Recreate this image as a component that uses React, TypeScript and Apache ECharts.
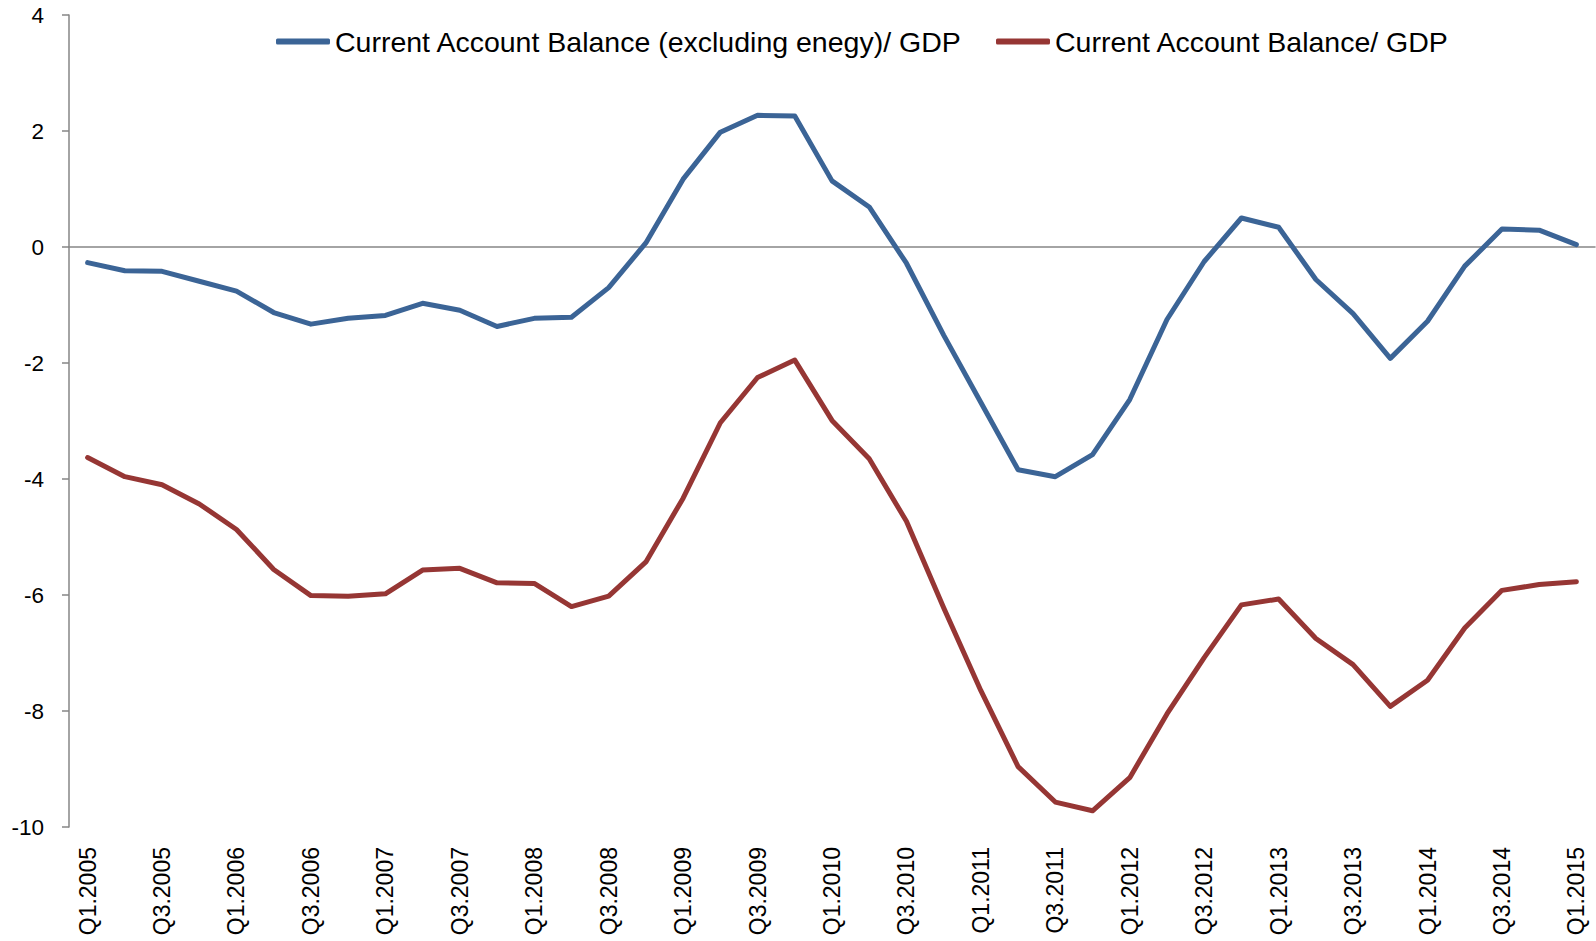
import React, { useEffect, useRef } from "react";
import * as echarts from "echarts";

const years = [2005, 2006, 2007, 2008, 2009, 2010, 2011, 2012, 2013, 2014, 2015];
const categories: string[] = [];
for (const y of years) {
  for (let q = 1; q <= 4; q++) {
    if (y === 2015 && q > 1) break;
    categories.push(`Q${q}.${y}`);
  }
}

const seriesNames = [
  "Current Account Balance (excluding enegy)/ GDP",
  "Current Account Balance/ GDP",
];

const caExEnergy = [
  -0.27, -0.41, -0.42, -0.59, -0.76, -1.13, -1.33, -1.23, -1.18, -0.97,
  -1.09, -1.37, -1.23, -1.21, -0.7, 0.07, 1.17, 1.98, 2.27, 2.26,
  1.14, 0.69, -0.28, -1.52, -2.68, -3.84, -3.96, -3.58, -2.63, -1.25,
  -0.25, 0.5, 0.34, -0.56, -1.15, -1.92, -1.28, -0.33, 0.31, 0.29,
  0.04,
];

const caTotal = [
  -3.63, -3.96, -4.1, -4.43, -4.87, -5.56, -6.01, -6.02, -5.98, -5.57,
  -5.54, -5.79, -5.8, -6.2, -6.02, -5.43, -4.33, -3.03, -2.25, -1.95,
  -2.99, -3.65, -4.73, -6.22, -7.65, -8.96, -9.57, -9.72, -9.15, -8.05,
  -7.08, -6.17, -6.07, -6.75, -7.2, -7.92, -7.47, -6.57, -5.92, -5.82,
  -5.77,
];

const colors = ["#3b6496", "#963634"];
const axisGray = "#868686";
const fontFamily = "'Liberation Sans', Arial, sans-serif";

export default function App() {
  const ref = useRef<HTMLDivElement>(null);
  useEffect(() => {
    if (!ref.current) return;
    const chart = echarts.init(ref.current, undefined, { renderer: "svg" });
    const legendText = { fontSize: 28.5, color: "#000", fontFamily };
    const legendBase = {
      top: 27,
      padding: 0,
      icon: "roundRect",
      itemWidth: 54,
      itemHeight: 6,
      textStyle: legendText,
      selectedMode: false,
    };
    chart.setOption({
      animation: false,
      backgroundColor: "#fff",
      grid: { left: 69, right: 1, top: 15, bottom: 114, containLabel: false },
      legend: [
        { ...legendBase, data: [seriesNames[0]], left: 276 },
        { ...legendBase, data: [seriesNames[1]], left: 996 },
      ],
      xAxis: [
        {
          type: "category",
          data: categories,
          boundaryGap: true,
          axisLine: { show: true, onZero: true, lineStyle: { color: axisGray, width: 1.5 } },
          axisTick: { show: false },
          axisLabel: { show: false },
          splitLine: { show: false },
        },
        {
          type: "category",
          data: categories,
          position: "bottom",
          boundaryGap: true,
          axisLine: { show: false, onZero: false },
          axisTick: { show: false },
          axisLabel: {
            show: true,
            rotate: 90,
            interval: 1,
            margin: 20,
            fontSize: 23,
            color: "#000",
            fontFamily,
          },
          splitLine: { show: false },
        },
      ],
      yAxis: {
        type: "value",
        min: -10,
        max: 4,
        interval: 2,
        axisLine: { show: true, lineStyle: { color: axisGray, width: 1.5 } },
        axisTick: { show: true, inside: false, length: 7, lineStyle: { color: axisGray, width: 1.5 } },
        axisLabel: { fontSize: 22.5, color: "#000", fontFamily, margin: 25 },
        splitLine: { show: false },
      },
      series: [
        {
          name: seriesNames[0],
          type: "line",
          xAxisIndex: 0,
          data: caExEnergy,
          showSymbol: false,
          symbol: "none",
          lineStyle: { color: colors[0], width: 5, cap: "round", join: "round" },
          itemStyle: { color: colors[0] },
        },
        {
          name: seriesNames[1],
          type: "line",
          xAxisIndex: 0,
          data: caTotal,
          showSymbol: false,
          symbol: "none",
          lineStyle: { color: colors[1], width: 5, cap: "round", join: "round" },
          itemStyle: { color: colors[1] },
        },
      ],
    });
    return () => chart.dispose();
  }, []);
  return (
    <div
      ref={ref}
      style={{ position: "fixed", left: 0, top: 0, width: 1596, height: 941, background: "#fff" }}
    />
  );
}
